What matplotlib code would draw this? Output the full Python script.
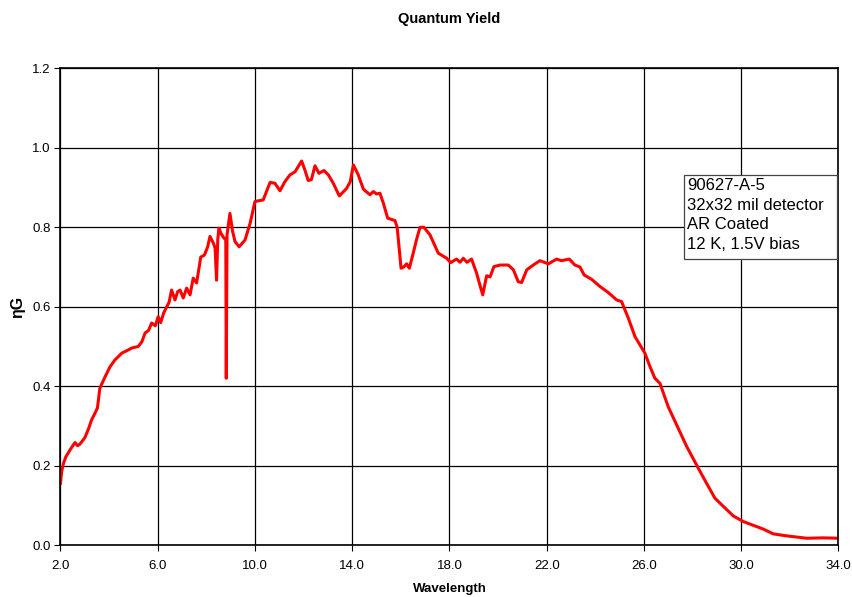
import matplotlib.pyplot as plt
from matplotlib.patches import Rectangle
import numpy as np

plt.rcParams['font.family'] = ['Liberation Sans', 'DejaVu Sans']

# wavelength (um) and quantum yield * gain
wavelength = [
    2.00, 2.05, 2.12, 2.22, 2.32, 2.45, 2.60, 2.70, 2.80, 3.00, 3.15, 3.28, 3.42, 3.52,
    3.62, 3.83, 4.04, 4.24, 4.52, 4.75, 4.93, 5.20, 5.35, 5.48, 5.62, 5.75, 5.90,
    6.02, 6.12, 6.25, 6.37, 6.47, 6.57, 6.71, 6.82, 6.92, 7.05, 7.19, 7.33, 7.46,
    7.60, 7.77, 7.92, 8.05, 8.15, 8.29, 8.36, 8.42, 8.47, 8.52, 8.60, 8.70, 8.80,
    8.82, 8.85, 8.97, 9.08, 9.18, 9.35, 9.59, 9.80, 10.00, 10.34, 10.62, 10.82, 11.03,
    11.23, 11.44, 11.65, 11.92, 12.05, 12.19, 12.32, 12.47, 12.63, 12.84, 13.02,
    13.22, 13.47, 13.77, 13.92, 14.05, 14.25, 14.46, 14.73, 14.87, 15.00, 15.14,
    15.28, 15.46, 15.76, 15.85, 16.01, 16.12, 16.24, 16.35, 16.51, 16.65, 16.79,
    16.95, 17.20, 17.54, 17.89, 18.05, 18.18, 18.30, 18.43, 18.57, 18.72, 18.91,
    19.12, 19.25, 19.37, 19.53, 19.67, 19.83, 20.08, 20.42, 20.63, 20.83, 20.97,
    21.18, 21.45, 21.72, 22.07, 22.41, 22.60, 22.93, 23.16, 23.37, 23.54, 23.85,
    24.19, 24.53, 24.88, 25.08, 25.36, 25.63, 26.04, 26.25, 26.45, 26.66, 27.00,
    27.35, 27.76, 28.24, 28.58, 28.92, 29.27, 29.68, 30.09, 30.57, 30.91, 31.32,
    31.87, 32.70, 33.38, 34.00,
]
eta_g = [
    0.155, 0.185, 0.205, 0.222, 0.232, 0.245, 0.258, 0.250, 0.254, 0.270, 0.292, 0.315, 0.332, 0.345,
    0.395, 0.423, 0.449, 0.466, 0.483, 0.490, 0.496, 0.500, 0.512, 0.534, 0.540, 0.559, 0.552,
    0.575, 0.560, 0.585, 0.600, 0.612, 0.642, 0.617, 0.638, 0.642, 0.622, 0.647, 0.630, 0.672,
    0.660, 0.725, 0.730, 0.750, 0.777, 0.760, 0.748, 0.667, 0.770, 0.798, 0.785, 0.775, 0.768,
    0.420, 0.780, 0.835, 0.790, 0.764, 0.751, 0.768, 0.810, 0.865, 0.869, 0.913, 0.911, 0.892,
    0.915, 0.932, 0.940, 0.967, 0.945, 0.918, 0.920, 0.955, 0.936, 0.943, 0.932,
    0.911, 0.879, 0.898, 0.915, 0.957, 0.932, 0.896, 0.882, 0.890, 0.884, 0.886,
    0.861, 0.823, 0.817, 0.800, 0.697, 0.700, 0.708, 0.697, 0.735, 0.770, 0.800,
    0.800, 0.781, 0.735, 0.722, 0.711, 0.716, 0.720, 0.712, 0.722, 0.712, 0.720,
    0.684, 0.655, 0.630, 0.678, 0.675, 0.701, 0.705, 0.705, 0.693, 0.663, 0.661,
    0.693, 0.705, 0.716, 0.708, 0.720, 0.716, 0.720, 0.705, 0.700, 0.680, 0.669,
    0.651, 0.636, 0.617, 0.613, 0.571, 0.525, 0.483, 0.449, 0.420, 0.407, 0.348,
    0.302, 0.248, 0.193, 0.155, 0.118, 0.097, 0.073, 0.059, 0.048, 0.040, 0.028,
    0.023, 0.017, 0.018, 0.017,
]

info_lines = ["90627-A-5", "32x32 mil detector", "AR Coated", "12 K, 1.5V bias"]

fig = plt.figure(figsize=(8.53, 5.97), dpi=100)
ax = fig.add_axes([0.0709, 0.0871, 0.912, 0.7982])

ax.plot(wavelength, eta_g, color='#ff0000', linewidth=2.2)

ax.set_xlim(2, 34)
ax.set_ylim(0, 1.2)
ax.set_xticks(np.arange(2, 34.1, 4))
ax.set_yticks(np.arange(0, 1.21, 0.2))
ax.xaxis.set_major_formatter(plt.FormatStrFormatter('%.1f'))
ax.yaxis.set_major_formatter(plt.FormatStrFormatter('%.1f'))
ax.grid(True, color='black', linewidth=0.9)
ax.tick_params(direction='out', length=4, color='black', labelsize=9.5, pad=3)
ax.tick_params(axis='x', pad=7)
for s in ax.spines.values():
    s.set_linewidth(1.2)

ax.set_title("Quantum Yield", fontsize=10.5, fontweight='bold', pad=33)
ax.set_xlabel("Wavelength", fontsize=9.5, fontweight='bold', labelpad=8)
ax.set_ylabel("\u03b7G", fontsize=11.5, fontweight='bold', labelpad=5)

# annotation box with fixed size, like the original
ax.add_patch(Rectangle((0.8014, 0.600), 0.1966, 0.1765, transform=ax.transAxes,
                       facecolor='white', edgecolor='#444444', linewidth=0.9, zorder=5))
ax.text(0.8055, 0.770, "\n".join(info_lines), transform=ax.transAxes,
        fontsize=12, va='top', ha='left', linespacing=1.38, zorder=6)

fig.savefig("out.png", dpi=100)
